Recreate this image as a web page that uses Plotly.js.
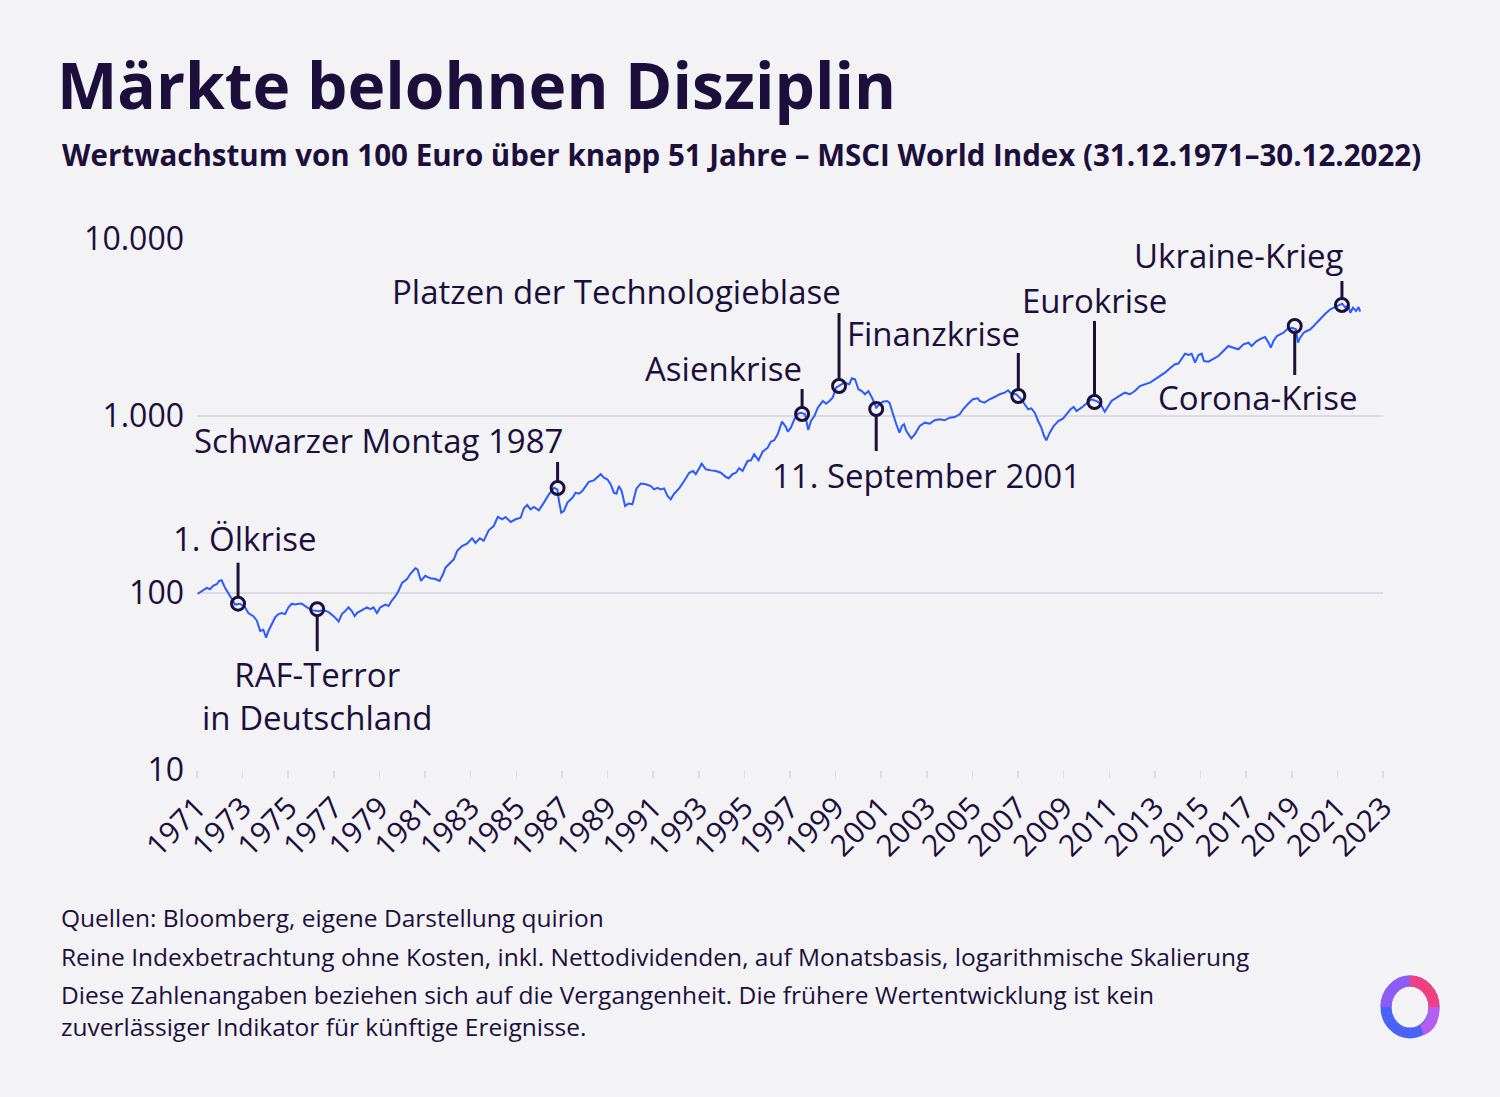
<!DOCTYPE html>
<html><head><meta charset="utf-8">
<script src="https://cdn.plot.ly/plotly-3.0.1.min.js"></script>
<style>html,body{margin:0;padding:0;background:#f3f3f6;} #chart{width:1500px;height:1097px;}</style>
</head><body><div id="chart"></div>
<script>
// ---- data ----
const years = [
1971.03,1971.21,1971.43,1971.57,1971.72,1971.87,1971.97,1972.08,1972.23,1972.37,1972.52,1972.67,1972.89,
1973.11,1973.25,1973.47,1973.62,1973.77,1973.91,1974.03,1974.13,1974.28,1974.43,1974.57,1974.72,1974.86,
1975.01,1975.16,1975.30,1975.45,1975.60,1975.82,1976.04,1976.33,1976.55,1976.77,1976.99,1977.21,1977.35,
1977.50,1977.64,1977.79,1977.91,1978.01,1978.16,1978.30,1978.45,1978.60,1978.74,1978.89,1979.04,1979.26,
1979.40,1979.55,1979.70,1979.84,1979.99,1980.21,1980.35,1980.57,1980.67,1980.82,1981.01,1981.23,1981.45,
1981.64,1981.79,1981.89,1982.11,1982.26,1982.41,1982.62,1982.84,1983.06,1983.21,1983.40,1983.57,1983.79,
1984.01,1984.19,1984.38,1984.53,1984.75,1984.97,1985.19,1985.33,1985.48,1985.62,1985.77,1985.99,1986.21,
1986.43,1986.65,1986.80,1986.87,1986.97,1987.09,1987.24,1987.46,1987.60,1987.75,1987.89,1988.04,1988.18,
1988.40,1988.55,1988.70,1988.84,1988.99,1989.14,1989.28,1989.39,1989.50,1989.62,1989.77,1989.92,1990.09,
1990.27,1990.46,1990.68,1990.90,1991.04,1991.19,1991.33,1991.48,1991.63,1991.77,1991.92,1992.14,1992.36,
1992.58,1992.75,1992.87,1993.13,1993.31,1993.53,1993.75,1993.97,1994.19,1994.31,1994.48,1994.63,1994.77,
1994.92,1995.14,1995.29,1995.43,1995.62,1995.80,1996.02,1996.16,1996.31,1996.46,1996.65,1996.82,1996.90,
1997.04,1997.19,1997.34,1997.48,1997.66,1997.80,1997.92,1998.07,1998.22,1998.44,1998.58,1998.73,1998.87,
1999.02,1999.21,1999.38,1999.60,1999.71,1999.85,2000.00,2000.15,2000.29,2000.44,2000.63,2000.78,2000.92,
2001.07,2001.26,2001.36,2001.51,2001.66,2001.80,2001.91,2002.00,2002.10,2002.32,2002.47,2002.69,2002.91,
2003.13,2003.34,2003.56,2003.78,2004.00,2004.22,2004.44,2004.59,2004.81,2005.02,2005.24,2005.31,2005.53,
2005.75,2005.97,2006.19,2006.41,2006.56,2006.70,2006.92,2007.14,2007.29,2007.44,2007.58,2007.73,2007.88,
2008.02,2008.14,2008.24,2008.39,2008.56,2008.76,2008.98,2009.12,2009.30,2009.44,2009.56,2009.78,2010.00,
2010.22,2010.44,2010.61,2010.80,2010.95,2011.10,2011.32,2011.54,2011.68,2011.90,2012.12,2012.34,2012.56,
2012.78,2013.00,2013.22,2013.44,2013.66,2013.88,2014.03,2014.17,2014.32,2014.47,2014.61,2014.76,2014.91,
2015.05,2015.15,2015.35,2015.56,2015.78,2016.00,2016.22,2016.44,2016.66,2016.88,2017.10,2017.24,2017.46,
2017.68,2017.83,2017.98,2018.08,2018.20,2018.35,2018.49,2018.64,2018.79,2019.01,2019.18,2019.27,2019.37,
2019.52,2019.66,2019.81,2019.96,2020.10,2020.25,2020.47,2020.69,2020.91,2021.06,2021.21,2021.35,2021.47,
2021.57,2021.68,2021.82,2021.93,2022.00
];
const values = [
99,103,107,105,110,112,117,118,107,100,92,86,87,
83,77,74,70,61,62,56,61,67,73,76,77,76,
83,87,86,87,87,83,80,79,80,78,74,69,76,
79,83,79,74,77,79,81,83,81,83,77,83,86,
84.5,91,96,103,114,120,128,138,136,117,125,121,120,
117,128,139,148,155,173,184,190,204,192,204,197,226,
239,269,261,269,252,261,266,301,314,297,306,293,324,
361,393,385,331,284,291,324,345,369,364,377,400,425,
433,448,469,448,439,411,369,364,402,377,310,320,317,
390,415,411,402,385,393,385,390,353,338,364,390,429,
478,489,469,538,500,493,489,478,452,445,469,478,507,
489,557,562,608,562,628,662,716,729,788,929,867,815,
859,958,1030,1044,1022,834,937,1000,1114,1215,1173,1215,1269,
1445,1496,1542,1511,1633,1612,1416,1384,1327,1384,1243,1114,1165,
1204,1215,1189,1022,898,805,878,898,823,748,788,878,917,
905,946,958,946,978,987,1022,1091,1173,1243,1259,1215,1189,
1243,1280,1327,1354,1397,1336,1327,1243,1154,1091,1105,1044,937,
859,771,729,805,878,937,970,1022,1091,1124,1067,1114,1173,
1243,1215,1173,1057,1139,1215,1269,1314,1354,1327,1384,1477,1511,
1542,1612,1683,1757,1860,1960,1980,2091,2249,2212,2249,2000,2212,
2249,2045,2027,2091,2183,2329,2486,2432,2382,2542,2595,2486,2653,
2748,2795,2595,2432,2653,2831,2894,2955,3089,3154,3089,2595,2770,
2955,3021,3089,3225,3366,3565,3784,4007,4129,4238,4311,4092,4238,
3834,4092,3920,4129,3885
];
const tickYears = [1971,1973,1975,1977,1979,1981,1983,1985,1987,1989,1991,1993,1995,1997,1999,2001,2003,2005,2007,2009,2011,2013,2015,2017,2019,2021,2023];
const yTickVals = [10, 100, 1000, 10000];
const yTickText = ['10', '100', '1.000', '10.000'];
const eventNames = ['1. Ölkrise', 'RAF-Terror<br>in Deutschland', 'Schwarzer Montag 1987', 'Asienkrise',
  'Platzen der Technologieblase', '11. September 2001', 'Finanzkrise', 'Eurokrise', 'Corona-Krise', 'Ukraine-Krieg'];
const eventYears = [1972.80, 1976.27, 1986.81, 1997.53, 1999.15, 2000.78, 2007.01, 2010.35, 2019.13, 2021.20];
const eventValues = [87, 81, 392, 1026, 1477, 1095, 1297, 1200, 3225, 4238];

const titleText = 'Märkte belohnen Disziplin';
const subtitleText = 'Wertwachstum von 100 Euro über knapp 51 Jahre – MSCI World Index (31.12.1971–30.12.2022)';
const notes = [
  'Quellen: Bloomberg, eigene Darstellung quirion',
  'Reine Indexbetrachtung ohne Kosten, inkl. Nettodividenden, auf Monatsbasis, logarithmische Skalierung',
  'Diese Zahlenangaben beziehen sich auf die Vergangenheit. Die frühere Wertentwicklung ist kein<br>zuverlässiger Indikator für künftige Ereignisse.'
];

// ---- styling / placement (pixels) ----
const W = 1500, H = 1097;
const M = {l: 197, r: 117, t: 239, b: 327};
const PW = W - M.l - M.r, PH = H - M.t - M.b;
const PX_PER_DECADE = PH / 3;
const px = x => (x - M.l) / PW;
const py = y => (H - M.b - y) / PH;
const FONT = '"Open Sans", "Noto Sans", sans-serif';
const INK = '#1c0f3c';
const BG = '#f3f3f6';
const BLUE = '#2b5bff';
const GRID = '#dcdae4';

// label placement per event: anchor, xshift, yshift, stem ends (px from point, + = up)
const labelStyle = [
  {anchor: 'center', dx: 7,   dy: 65,  s0: 7,   s1: 41},
  {anchor: 'center', dx: 0,   dy: -87, s0: -7,  s1: -42},
  {anchor: 'right',  dx: 7,   dy: 47,  s0: 7,   s1: 26},
  {anchor: 'right',  dx: 2,   dy: 46,  s0: 7,   s1: 25},
  {anchor: 'right',  dx: 4,   dy: 95,  s0: 7,   s1: 73},
  {anchor: 'center', dx: 50,  dy: -66, s0: -7,  s1: -42},
  {anchor: 'right',  dx: 4,   dy: 63,  s0: 7,   s1: 43},
  {anchor: 'center', dx: 0,   dy: 101, s0: 7,   s1: 81},
  {anchor: 'center', dx: -37, dy: -72, s0: -7,  s1: -49},
  {anchor: 'right',  dx: 3,   dy: 49,  s0: 7,   s1: 24}
];

// stems as line segments through the axes (pixel offsets turned into log-scale factors)
const stemX = [], stemY = [];
eventYears.forEach((yr, i) => {
  const st = labelStyle[i];
  stemX.push(yr, yr, null);
  stemY.push(eventValues[i] * Math.pow(10, st.s0 / PX_PER_DECADE),
             eventValues[i] * Math.pow(10, st.s1 / PX_PER_DECADE), null);
});

const traces = [
  {x: years, y: values, type: 'scatter', mode: 'lines',
   line: {color: BLUE, width: 2}, hoverinfo: 'skip', showlegend: false},
  {x: stemX, y: stemY, type: 'scatter', mode: 'lines', connectgaps: false,
   line: {color: INK, width: 3}, hoverinfo: 'skip', showlegend: false},
  {x: eventYears, y: eventValues, type: 'scatter', mode: 'markers',
   marker: {symbol: 'circle-open', size: 13, color: INK, line: {width: 3, color: INK}},
   hoverinfo: 'skip', showlegend: false}
];

const annotations = [];
eventNames.forEach((name, i) => {
  const st = labelStyle[i];
  annotations.push({
    x: eventYears[i], y: Math.log10(eventValues[i]), xref: 'x', yref: 'y',
    text: name, showarrow: false, xanchor: st.anchor, yanchor: 'middle',
    xshift: st.dx, yshift: st.dy, align: 'center',
    font: {family: FONT, size: 33, color: INK}
  });
});

annotations.push({
  xref: 'paper', yref: 'paper', x: px(60), y: py(154), xanchor: 'left', yanchor: 'middle',
  text: '<b>' + subtitleText + '</b>', showarrow: false,
  font: {family: FONT, size: 29.5, color: INK}
});
const noteY = [917, 956, 1010];
notes.forEach((t, i) => annotations.push({
  xref: 'paper', yref: 'paper', x: px(59), y: py(noteY[i]), xanchor: 'left', yanchor: 'middle',
  text: t, showarrow: false, align: 'left', font: {family: FONT, size: 24.5, color: INK}
}));

// logo ring
const shapes = [];
const lx = px(1410), ly = py(1007);
shapes.push({type: 'circle', xref: 'paper', yref: 'paper', xsizemode: 'pixel', ysizemode: 'pixel',
  xanchor: lx, yanchor: ly, x0: -24, x1: 24, y0: -26, y1: 26, line: {color: '#4a63f7', width: 11}});
shapes.push({type: 'path', xref: 'paper', yref: 'paper', xsizemode: 'pixel', ysizemode: 'pixel',
  xanchor: lx, yanchor: ly, path: 'M -24,0 C -24,14 -13,26 0,26', line: {color: '#8d5cf6', width: 11}});
shapes.push({type: 'path', xref: 'paper', yref: 'paper', xsizemode: 'pixel', ysizemode: 'pixel',
  xanchor: lx, yanchor: ly, path: 'M 0,26 C 13,26 24,14 24,0', line: {color: '#f0407f', width: 11}});
shapes.push({type: 'path', xref: 'paper', yref: 'paper', xsizemode: 'pixel', ysizemode: 'pixel',
  xanchor: lx, yanchor: ly, path: 'M 24,0 C 24,-12 20,-20 12,-23', line: {color: '#b65cf0', width: 11}});

const layout = {
  width: W, height: H, margin: M, paper_bgcolor: BG, plot_bgcolor: BG,
  font: {family: FONT, color: INK},
  title: {text: '<b>' + titleText + '</b>', font: {family: FONT, size: 64, color: INK},
    xref: 'container', yref: 'container', x: 57 / W, xanchor: 'left', y: 1 - 87 / H, yanchor: 'middle'},
  xaxis: {range: [1971, 2023], tickmode: 'array', tickvals: tickYears, ticktext: tickYears.map(String),
    tickangle: -45, ticks: 'outside', ticklen: 7, tickcolor: GRID, tickwidth: 1.5,
    showgrid: false, zeroline: false, showline: false,
    tickfont: {family: FONT, size: 30, color: INK}},
  yaxis: {type: 'log', range: [1, 4], tickmode: 'array', tickvals: yTickVals, ticktext: yTickText,
    showgrid: true, gridcolor: GRID, gridwidth: 1.2, zeroline: false, showline: false, ticks: '',
    ticklabelstandoff: 12, tickfont: {family: FONT, size: 32, color: INK}},
  annotations: annotations, shapes: shapes, showlegend: false
};

Plotly.newPlot('chart', traces, layout, {displayModeBar: false, staticPlot: true});
</script>
</body></html>
